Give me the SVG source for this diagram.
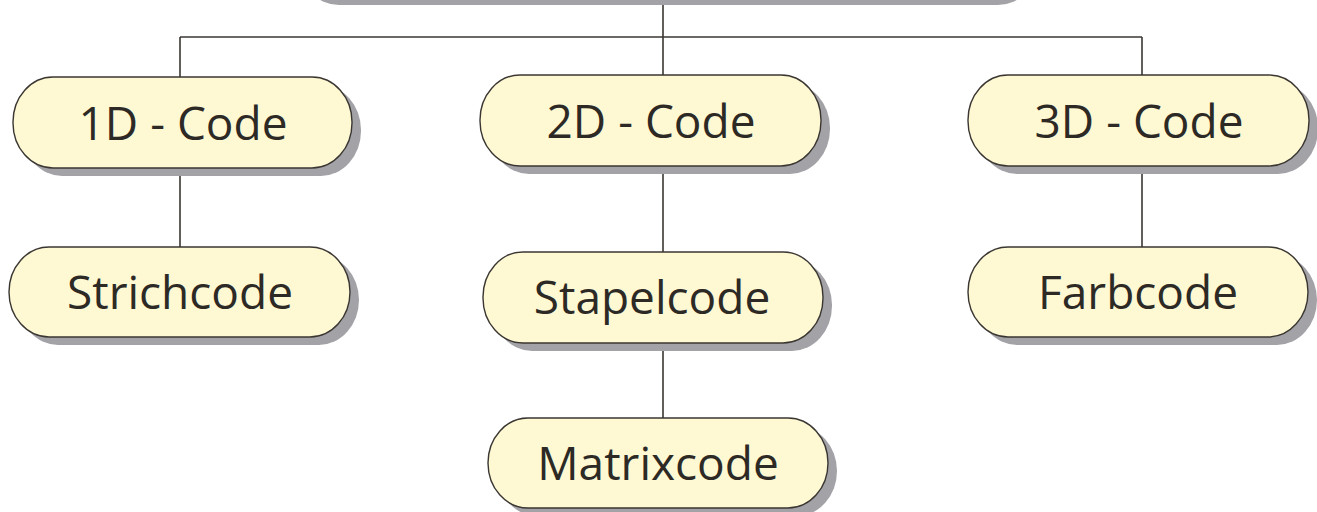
<svg xmlns="http://www.w3.org/2000/svg" width="1317" height="512" viewBox="0 0 1317 512">
<style>
.sh{fill:#a3a3a7;stroke:none}
.bx{fill:#fef8d3;stroke:#3a3632;stroke-width:1.4}
.lb{font-family:"Open Sans","Noto Sans",sans-serif;font-size:46px;fill:#2d2a26;text-anchor:middle}
.cn{stroke:#3a3632;stroke-width:1.6;fill:none}
</style>
<rect width="1317" height="512" fill="#ffffff"/>
<g id="connectors">
<line class="cn" x1="180" y1="37" x2="1142" y2="37"/>
<line class="cn" x1="663" y1="0" x2="663" y2="75"/>
<line class="cn" x1="180" y1="37" x2="180" y2="77"/>
<line class="cn" x1="1142" y1="37" x2="1142" y2="75"/>
<line class="cn" x1="180" y1="168" x2="180" y2="247"/>
<line class="cn" x1="663" y1="166" x2="663" y2="252"/>
<line class="cn" x1="1142" y1="166" x2="1142" y2="247"/>
<line class="cn" x1="663" y1="343" x2="663" y2="418"/>
</g>
<g id="node-top">
<rect class="sh" x="299" y="-82" width="739" height="87" rx="40" ry="44"/>
<rect class="bx" x="290" y="-90" width="739" height="87" rx="40" ry="44"/>
</g>
<g id="node-1d">
<rect class="sh" x="22" y="85" width="339" height="91" rx="40" ry="45"/>
<rect class="bx" x="13" y="77" width="339" height="91" rx="40" ry="45"/>
<text class="lb" x="183" y="140">1D - Code</text>
</g>
<g id="node-2d">
<rect class="sh" x="489" y="83" width="341" height="91" rx="40" ry="45"/>
<rect class="bx" x="480" y="75" width="341" height="91" rx="40" ry="45"/>
<text class="lb" x="651" y="138">2D - Code</text>
</g>
<g id="node-3d">
<rect class="sh" x="977" y="83" width="341" height="91" rx="40" ry="45"/>
<rect class="bx" x="968" y="75" width="341" height="91" rx="40" ry="45"/>
<text class="lb" x="1139" y="138">3D - Code</text>
</g>
<g id="node-strichcode">
<rect class="sh" x="18" y="255" width="341" height="90" rx="40" ry="45"/>
<rect class="bx" x="9" y="247" width="341" height="90" rx="40" ry="45"/>
<text class="lb" x="180" y="309">Strichcode</text>
</g>
<g id="node-stapelcode">
<rect class="sh" x="492" y="260" width="340" height="91" rx="40" ry="45"/>
<rect class="bx" x="483" y="252" width="340" height="91" rx="40" ry="45"/>
<text class="lb" x="652" y="314">Stapelcode</text>
</g>
<g id="node-farbcode">
<rect class="sh" x="977" y="255" width="340" height="90" rx="40" ry="45"/>
<rect class="bx" x="968" y="247" width="340" height="90" rx="40" ry="45"/>
<text class="lb" x="1138" y="309">Farbcode</text>
</g>
<g id="node-matrixcode">
<rect class="sh" x="497" y="426" width="340" height="90" rx="40" ry="45"/>
<rect class="bx" x="488" y="418" width="340" height="90" rx="40" ry="45"/>
<text class="lb" x="658" y="480">Matrixcode</text>
</g>
</svg>
